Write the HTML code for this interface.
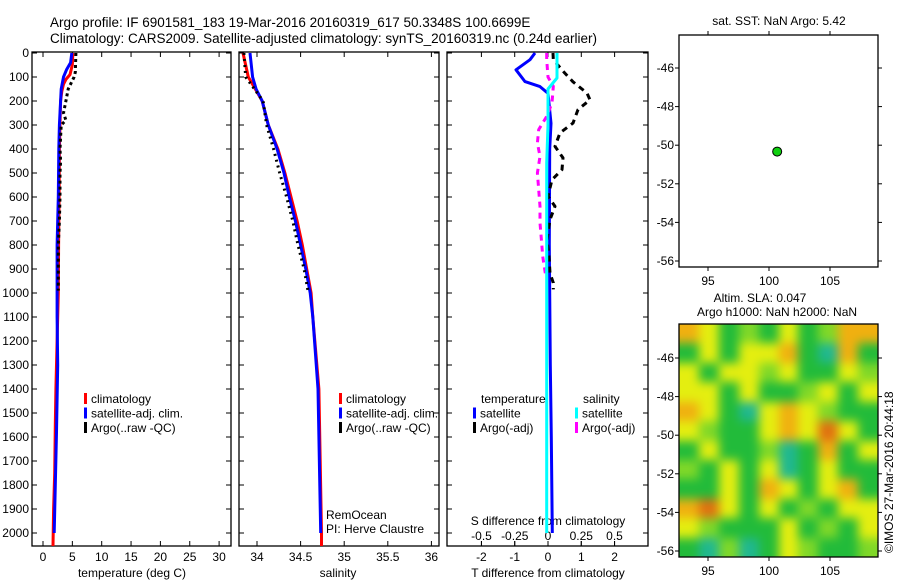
<!DOCTYPE html>
<html><head><meta charset="utf-8">
<style>
body{margin:0;background:#fff;}
#wrap{position:relative;width:900px;height:580px;overflow:hidden;}
svg{position:absolute;left:0;top:0;display:block;font-family:"Liberation Sans",sans-serif;font-size:12px;}
#heat{position:absolute;left:679px;top:324px;width:199px;height:233px;overflow:hidden;}
#heatInner{position:absolute;left:-15px;top:-15px;width:229px;height:263px;filter:blur(5px);}
#heatInner div{position:absolute;}
</style></head>
<body>
<div id="wrap">
<div id="heat"><div id="heatInner"></div></div>
<svg id="chart" width="900" height="580" viewBox="0 0 900 580" xmlns="http://www.w3.org/2000/svg">
<g>
<text x="50" y="27" font-size="13.5">Argo profile: IF 6901581_183 19-Mar-2016 20160319_617 50.3348S 100.6699E</text>
<text x="50" y="43" font-size="13.5">Climatology: CARS2009. Satellite-adjusted climatology: synTS_20160319.nc (0.24d earlier)</text>
</g>
<g id="plots"></g>
</svg>
</div>
<script>
// ---- data ----
const depthTicks=[0,100,200,300,400,500,600,700,800,900,1000,1100,1200,1300,1400,1500,1600,1700,1800,1900,2000];
const tempTicks=[0,5,10,15,20,25,30];
const salTicks=[34,34.5,35,35.5,36];
const tdiffTicks=[-2,-1,0,1,2];
const sdiffTicks=[-0.5,-0.25,0,0.25,0.5];
const sdiffTickLabels=["-0.5","-0.25","0","0.25","0.5"];

const climTDepth=[0,50,90,110,130,160,200,300,400,600,800,1000,1200,1400,1550,1750,1900,2054];
const climT=[5.1,5.0,4.6,3.9,3.5,3.2,3.0,2.9,2.8,2.75,2.65,2.6,2.4,2.2,2.1,2.0,1.8,1.7];
const satTDepth=[0,40,70,100,150,200,300,400,600,800,1100,1300,1580,1800,2000];
const satT=[4.9,4.7,4.0,3.5,3.1,3.0,2.8,2.7,2.6,2.4,2.4,2.5,2.3,2.1,1.9];
const argoTDepth=[0,80,100,150,200,250,280,300,400,450,500,600,700,800,950,990];
const argoT=[5.6,5.5,5.3,4.3,3.9,3.5,3.9,3.1,2.9,3.0,2.9,2.9,2.8,2.6,2.6,2.6];

const climSDepth=[0,100,150,200,300,400,500,600,700,800,900,1000,1100,1400,2000,2054];
const climS=[33.84,33.9,33.98,34.06,34.13,34.24,34.32,34.39,34.46,34.52,34.57,34.62,34.64,34.71,34.74,34.74];
const satSDepth=[0,100,150,200,300,400,500,600,700,800,900,1000,1100,1400,2000];
const satS=[33.92,33.95,33.99,34.06,34.13,34.23,34.31,34.37,34.44,34.5,34.56,34.61,34.64,34.7,34.73];
const argoSDepth=[0,100,200,300,400,500,600,700,800,900,1000];
const argoS=[33.85,33.87,34.07,34.11,34.19,34.26,34.34,34.41,34.47,34.54,34.59];

const dTsatDepth=[0,28,70,119,140,168,293,400,800,1300,1600,2000];
const dTsat=[-0.39,-0.54,-0.96,-0.69,-0.24,0.0,0.09,0.05,0.04,0.07,0.1,0.13];
const dSsatDepth=[0,104,150,300,458,1000,2000];
const dSsat=[0.068,0.068,0.0,0.0,-0.01,-0.01,-0.01];
const dTargoDepth=[0,28,83,120,167,195,236,292,333,389,437,486,528,597,639,694,778,847,917,958,985];
const dTargo=[0.15,0.16,0.5,0.75,1.17,1.26,0.9,0.75,0.36,0.21,0.45,0.42,0.12,0.0,0.21,0.06,-0.03,0.03,0.06,0.16,0.16];
const dSargoDepth=[0,28,100,139,208,264,319,375,431,500,569,639,708,778,847,917,930];
const dSargo=[-0.01,-0.01,0.0,0.04,0.03,-0.01,-0.07,-0.08,-0.06,-0.08,-0.07,-0.06,-0.06,-0.05,-0.04,-0.02,-0.02];

const lonTicks=[95,100,105];
const latTicks=[-46,-48,-50,-52,-54,-56];
const floatLon=[100.67];
const floatLat=[-50.33];
const slaGrid=[
[4,3,1,2,1,3,1,2,4,4],
[1,3,1,3,3,4,1,0,4,1],
[3,1,3,3,2,3,1,1,3,2],
[3,3,1,3,1,1,2,3,1,3],
[4,3,1,0,3,4,3,2,1,1],
[3,2,1,1,3,4,3,5,3,1],
[1,3,1,1,2,0,1,4,1,3],
[2,1,3,1,3,0,1,3,1,1],
[1,1,3,1,4,3,1,3,4,1],
[4,5,3,1,3,1,2,1,3,3],
[3,2,1,1,1,3,1,2,1,3],
[1,0,2,0,1,3,2,1,1,2]];
const slaColors=["#20b890","#22bb3a","#80d828","#e4ee10","#f0b010","#e07010"];

// ---- helpers ----
const NS="http://www.w3.org/2000/svg";
const root=document.getElementById('plots');
function el(tag,attrs,parent,txt){const e=document.createElementNS(NS,tag);for(const k in attrs)e.setAttribute(k,attrs[k]);if(txt!==undefined)e.textContent=txt;(parent||root).appendChild(e);return e;}
const yD=d=>53+d*0.24;
const xT=t=>43+t*5.87;
const xS=s=>257+(s-34)*87.2;
const xdT=v=>548+v*33.3;
const xdS=v=>548+v*133;
const xLon=l=>708+(l-95)*12.2;
const yLatTop=l=>68+(-46-l)*19.3;
const yLatBot=l=>358+(-46-l)*19.3;

function frame(x0,x1,y0,y1,name){
  const g=el('g',{});
  
  
  el('rect',{x:x0,y:y0,width:x1-x0,height:y1-y0,fill:'none',stroke:'#000','stroke-width':1.3},g);
  return g;
}
function line(xs,ds,xf,color,name,dash,parent){
  const pts=xs.map((v,i)=>xf(v).toFixed(1)+','+yD(ds[i]).toFixed(1)).join(' ');
  const p=el('polyline',{points:pts,fill:'none',stroke:color,'stroke-width':3,'stroke-linejoin':'round'},parent);
  if(dash)p.setAttribute('stroke-dasharray',dash);
  
  
  return p;
}
function depthTickMarks(g,x0,x1){
  depthTicks.forEach(d=>{
    el('line',{x1:x0,x2:x0+5,y1:yD(d),y2:yD(d),stroke:'#000'},g);
    el('line',{x1:x1-5,x2:x1,y1:yD(d),y2:yD(d),stroke:'#000'},g);
  });
}
function xTicks(g,vals,labels,xf,y0,y1,ly){
  vals.forEach((v,i)=>{
    el('line',{x1:xf(v),x2:xf(v),y1:y1,y2:y1-5,stroke:'#000'},g);
    el('line',{x1:xf(v),x2:xf(v),y1:y0,y2:y0+5,stroke:'#000'},g);
    const t=el('text',{x:xf(v),y:ly,'text-anchor':'middle'},g,labels[i]);
    
    
  });
}
function legend(g,x,y,items){
  items.forEach((it,i)=>{
    el('rect',{x:x,y:y+i*14.5-10,width:3,height:11,fill:it[0]},g);
    const t=el('text',{x:x+7,y:y+i*14.5},g,it[1]);
    
    
  });
}

// ---- panel 1 temperature ----
const g1=frame(32,231,52,546,'temperature-panel');
depthTickMarks(g1,32,231);
depthTicks.forEach(d=>{const t=el('text',{x:29,y:yD(d)+4,'text-anchor':'end'},g1,String(d));

});
xTicks(g1,tempTicks,tempTicks.map(String),xT,52,546,561);
el('text',{x:132,y:577,'text-anchor':'middle'},g1,'temperature (deg C)');
line(climT,climTDepth,xT,'#f00','temp-climatology-line',null,g1);
line(satT,satTDepth,xT,'#00f','temp-satellite-line',null,g1);
line(argoT,argoTDepth,xT,'#000','temp-argo-line','3,3',g1);
legend(g1,84,403,[['#f00','climatology'],['#00f','satellite-adj. clim.'],['#000','Argo(..raw -QC)']]);

// ---- panel 2 salinity ----
const g2=frame(239,439,52,546,'salinity-panel');
depthTickMarks(g2,239,439);
xTicks(g2,salTicks,salTicks.map(String),xS,52,546,561);
el('text',{x:338,y:577,'text-anchor':'middle'},g2,'salinity');
line(climS,climSDepth,xS,'#f00','sal-climatology-line',null,g2);
line(satS,satSDepth,xS,'#00f','sal-satellite-line',null,g2);
line(argoS,argoSDepth,xS,'#000','sal-argo-line','2,4',g2);
legend(g2,339,403,[['#f00','climatology'],['#00f','satellite-adj. clim.'],['#000','Argo(..raw -QC)']]);
el('text',{x:326,y:519},g2,'RemOcean');
el('text',{x:326,y:533},g2,'PI: Herve Claustre');

// ---- panel 3 differences ----
const g3=frame(447,648,52,546,'difference-panel');
depthTickMarks(g3,447,648);
xTicks(g3,tdiffTicks,tdiffTicks.map(String),xdT,52,546,561);
sdiffTicks.forEach((v,i)=>{
  el('line',{x1:xdS(v),x2:xdS(v),y1:546,y2:541,stroke:'#000'},g3);
  const t=el('text',{x:xdS(v),y:540,'text-anchor':'middle'},g3,sdiffTickLabels[i]);
  
  
});
el('text',{x:548,y:525,'text-anchor':'middle'},g3,'S difference from climatology');
el('text',{x:548,y:577,'text-anchor':'middle'},g3,'T difference from climatology');
line(dTsat,dTsatDepth,xdT,'#00f','tdiff-satellite-line',null,g3);
line(dTargo,dTargoDepth,xdT,'#000','tdiff-argo-line','6,5',g3);
line(dSargo,dSargoDepth,xdS,'#f0f','sdiff-argo-line','6,5',g3);
line(dSsat,dSsatDepth,xdS,'#0ff','sdiff-satellite-line',null,g3);
el('text',{x:481,y:403},g3,'temperature');
el('text',{x:583,y:403},g3,'salinity');
legend(g3,473,417.5,[['#00f','satellite'],['#000','Argo(-adj)']]);
legend(g3,575,417.5,[['#0ff','satellite'],['#f0f','Argo(-adj)']]);

// ---- top map ----
const g4=frame(679,878,35,267,'float-location-map');
el('text',{x:779,y:25,'text-anchor':'middle'},g4,'sat. SST: NaN Argo: 5.42');
lonTicks.forEach(l=>{el('line',{x1:xLon(l),x2:xLon(l),y1:35,y2:31,stroke:'#000'},g4);
el('line',{x1:xLon(l),x2:xLon(l),y1:267,y2:271,stroke:'#000'},g4);
el('text',{x:xLon(l),y:285,'text-anchor':'middle'},g4,String(l));});
latTicks.forEach(l=>{el('line',{x1:675,x2:679,y1:yLatTop(l),y2:yLatTop(l),stroke:'#000'},g4);
el('line',{x1:878,x2:882,y1:yLatTop(l),y2:yLatTop(l),stroke:'#000'},g4);
el('text',{x:674,y:yLatTop(l)+4,'text-anchor':'end'},g4,String(l));});
floatLon.forEach((l,i)=>{const c=el('circle',{cx:xLon(l),cy:yLatTop(floatLat[i]),r:4.5,fill:'#10d010',stroke:'#000','stroke-width':1},g4);

});

// ---- bottom map SLA ----
const g5=frame(679,878,324,557,'sla-map');
el('text',{x:760,y:302,'text-anchor':'middle'},g5,'Altim. SLA: 0.047');
el('text',{x:777,y:316,'text-anchor':'middle'},g5,'Argo h1000: NaN h2000: NaN');
const heat=document.getElementById('heatInner');
const nr=slaGrid.length,nc=slaGrid[0].length,cw=199/nc,ch=233/nr;
slaGrid.forEach((row,r)=>row.forEach((v,c)=>{
  const d=document.createElement('div');
  const x=15+c*cw-(c==0?15:0), y=15+r*ch-(r==0?15:0);
  const w=cw+1+(c==0||c==nc-1?15:0), h=ch+1+(r==0||r==nr-1?15:0);
  d.style.left=x.toFixed(1)+'px';d.style.top=y.toFixed(1)+'px';
  d.style.width=w.toFixed(1)+'px';d.style.height=h.toFixed(1)+'px';
  d.style.background=slaColors[v];
  
  
  heat.appendChild(d);
}));
lonTicks.forEach(l=>{el('line',{x1:xLon(l),x2:xLon(l),y1:557,y2:561,stroke:'#000'},g5);
el('text',{x:xLon(l),y:575,'text-anchor':'middle'},g5,String(l));});
latTicks.forEach(l=>{el('line',{x1:675,x2:679,y1:yLatBot(l),y2:yLatBot(l),stroke:'#000'},g5);
el('line',{x1:878,x2:882,y1:yLatBot(l),y2:yLatBot(l),stroke:'#000'},g5);
el('text',{x:674,y:yLatBot(l)+4,'text-anchor':'end'},g5,String(l));});
const cr=el('text',{x:893,y:553,transform:'rotate(-90 893 553)'},g5,'©IMOS 27-Mar-2016 20:44:18');


</script>
</body></html>
